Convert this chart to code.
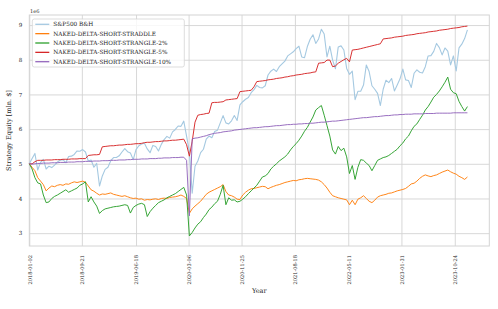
<!DOCTYPE html>
<html>
<head>
<meta charset="utf-8">
<script src="https://cdn.jsdelivr.net/npm/d3@7"></script>
<style>
  body { margin: 0; background: #fff; }
  svg { display: block; font-family: 'DejaVu Serif', serif; }
</style>
</head>
<body>
<div id="chart"></div>
<script>
'use strict'

// equity curves sampled every 14 days from 2018-01-02, in mln $
var startDate = '2018-01-02'
var sampleDays = 14

var spx = [
  5.00, 5.15, 5.30, 4.82, 5.04, 5.13, 4.85, 4.93, 4.89, 4.96, 5.05, 5.10, 5.12,
  5.03, 5.21, 5.22, 5.27, 5.37, 5.36, 5.41, 5.34, 5.08, 5.11, 4.90, 5.01, 4.36,
  4.65, 4.84, 4.90, 5.09, 5.18, 5.18, 5.23, 5.34, 5.44, 5.35, 5.31, 5.12, 5.41,
  5.52, 5.57, 5.59, 5.43, 5.32, 5.53, 5.50, 5.37, 5.56, 5.70, 5.79, 5.74, 5.92, 5.99,
  6.09, 6.08, 6.23, 5.80, 5.35, 4.15, 4.93, 5.08, 5.32, 5.42, 5.71, 5.80, 5.75,
  5.93, 5.97, 6.18, 6.39, 6.18, 6.15, 6.24, 6.39, 6.25, 6.70, 6.79, 6.86, 6.91,
  7.05, 7.14, 7.26, 7.20, 7.19, 7.25, 7.56, 7.67, 7.73, 7.66, 7.80, 7.88, 7.96,
  8.11, 8.17, 8.23, 8.32, 8.39, 8.08, 8.06, 8.38, 8.59, 8.72, 8.47, 8.60, 8.88,
  8.74, 8.08, 8.39, 7.99, 7.74, 8.37, 8.40, 8.28, 7.75, 7.58, 7.67, 6.85, 7.09,
  7.09, 7.27, 7.85, 7.66, 7.25, 7.15, 7.03, 6.68, 7.15, 7.41, 7.34, 7.46, 7.10,
  7.27, 7.45, 7.73, 7.42, 7.40, 7.20, 7.61, 7.71, 7.64, 7.62, 7.80, 8.11, 8.12,
  8.24, 8.47, 8.35, 8.14, 8.34, 8.25, 7.85, 8.11, 7.68, 8.34, 8.45, 8.61, 8.86
]

var straddle = [
  5.00, 4.90, 4.80, 4.60, 4.50, 4.40, 4.22, 4.30, 4.36, 4.34, 4.38, 4.40, 4.38,
  4.42, 4.41, 4.45, 4.48, 4.46, 4.48, 4.50, 4.47, 4.36, 4.25, 4.21, 4.15, 4.10,
  4.13, 4.12, 4.14, 4.16, 4.12, 4.10, 4.08, 4.06, 4.08, 4.05, 4.02, 4.00, 4.01,
  3.98, 3.99, 3.95, 3.97, 3.96, 3.98, 3.99, 3.97, 4.00, 4.01, 4.00, 4.03, 4.04, 4.05,
  4.07, 4.10, 4.06, 4.00, 3.57, 3.70, 3.78, 3.85, 3.92, 4.02, 4.12, 4.18, 4.22,
  4.26, 4.30, 4.34, 4.40, 4.20, 4.10, 4.08, 4.04, 3.98, 3.97, 4.10, 4.18, 4.24,
  4.28, 4.29, 4.31, 4.33, 4.35, 4.34, 4.28, 4.32, 4.35, 4.38, 4.40, 4.43, 4.46,
  4.48, 4.50, 4.52, 4.51, 4.54, 4.55, 4.57, 4.58, 4.57, 4.56, 4.55, 4.53, 4.48,
  4.40, 4.30, 4.18, 4.08, 4.05, 4.02, 4.00, 3.98, 3.96, 3.82, 3.95, 3.82, 3.98,
  4.02, 4.08, 4.00, 3.92, 3.88, 3.95, 4.04, 4.08, 4.10, 4.12, 4.15, 4.16, 4.19,
  4.22, 4.24, 4.26, 4.29, 4.35, 4.42, 4.44, 4.50, 4.58, 4.64, 4.68, 4.65, 4.63,
  4.66, 4.68, 4.72, 4.76, 4.79, 4.82, 4.77, 4.73, 4.70, 4.64, 4.60, 4.55, 4.62
]

var strangle2 = [
  5.00, 4.85, 4.60, 4.45, 4.42, 4.10, 3.88, 3.90, 4.00, 4.06, 4.10, 4.15, 4.20,
  4.25, 4.18, 4.22, 4.26, 4.30, 4.38, 4.42, 4.48, 3.90, 4.05, 3.90, 3.78, 3.57,
  3.65, 3.70, 3.72, 3.74, 3.76, 3.77, 3.78, 3.80, 3.82, 3.80, 3.58, 3.74, 3.80,
  3.84, 3.86, 3.82, 3.48, 3.62, 3.72, 3.80, 3.88, 3.92, 3.96, 4.02, 4.06, 4.10, 4.14,
  4.20, 4.26, 4.32, 4.10, 2.92, 3.02, 3.15, 3.26, 3.33, 3.45, 3.55, 3.68, 3.75,
  3.85, 3.92, 4.12, 4.38, 3.82, 4.02, 3.95, 3.96, 3.90, 3.92, 3.98, 4.05, 4.14,
  4.22, 4.30, 4.38, 4.50, 4.62, 4.65, 4.72, 4.85, 4.93, 5.00, 5.08, 5.14, 5.20,
  5.28, 5.40, 5.50, 5.58, 5.68, 5.80, 5.94, 6.05, 6.20, 6.35, 6.55, 6.62, 6.68,
  6.40, 6.10, 5.80, 5.40, 5.28, 5.50, 5.38, 5.45, 5.20, 4.72, 4.95, 4.55, 4.90,
  5.12, 5.10, 5.02, 4.95, 4.80, 4.95, 5.10, 5.14, 5.18, 5.20, 5.24, 5.30, 5.36,
  5.42, 5.52, 5.60, 5.72, 5.80, 5.95, 6.08, 6.15, 6.28, 6.40, 6.55, 6.65, 6.78,
  6.92, 7.00, 7.10, 7.22, 7.35, 7.50, 7.15, 7.05, 7.02, 6.80, 6.65, 6.52, 6.65
]

var strangle5 = [
  5.00, 5.00, 5.06, 5.10, 5.10, 5.10, 5.11, 5.11, 5.11, 5.12, 5.12, 5.12, 5.13,
  5.13, 5.13, 5.14, 5.14, 5.14, 5.15, 5.15, 5.15, 5.24, 5.25, 5.26, 5.26, 5.27,
  5.49, 5.50, 5.51, 5.52, 5.52, 5.53, 5.54, 5.54, 5.55, 5.56, 5.56, 5.57, 5.58,
  5.58, 5.59, 5.61, 5.62, 5.62, 5.63, 5.64, 5.64, 5.65, 5.66, 5.66, 5.67, 5.68, 5.68,
  5.69, 5.70, 5.71, 5.55, 5.22, 5.65, 6.20, 6.40, 6.42, 6.43, 6.45, 6.46, 6.76,
  6.77, 6.77, 6.78, 6.79, 6.84, 6.85, 6.86, 6.87, 6.88, 7.08, 7.09, 7.10, 7.11,
  7.12, 7.22, 7.37, 7.38, 7.39, 7.40, 7.42, 7.43, 7.44, 7.46, 7.47, 7.48, 7.50,
  7.51, 7.53, 7.54, 7.56, 7.57, 7.58, 7.60, 7.61, 7.62, 7.64, 7.65, 7.90, 7.91,
  7.92, 7.99, 7.99, 7.80, 7.82, 7.90, 7.95, 8.00, 8.04, 7.94, 8.28, 8.29, 8.30,
  8.32, 8.34, 8.36, 8.38, 8.40, 8.42, 8.44, 8.46, 8.60, 8.61, 8.62, 8.63, 8.65,
  8.66, 8.67, 8.68, 8.70, 8.71, 8.72, 8.73, 8.75, 8.76, 8.77, 8.78, 8.80, 8.81,
  8.82, 8.83, 8.85, 8.86, 8.87, 8.88, 8.90, 8.91, 8.92, 8.93, 8.95, 8.96, 8.97
]

var strangle10 = [
  5.00, 4.99, 5.00, 5.01, 5.01, 5.02, 5.02, 5.02, 5.03, 5.03, 5.03, 5.04, 5.04,
  5.04, 5.05, 5.05, 5.05, 5.06, 5.06, 5.06, 5.07, 5.07, 5.07, 5.08, 5.08, 5.08,
  5.09, 5.09, 5.09, 5.10, 5.10, 5.10, 5.11, 5.11, 5.11, 5.12, 5.12, 5.13, 5.13,
  5.13, 5.14, 5.14, 5.14, 5.15, 5.15, 5.15, 5.16, 5.16, 5.17, 5.17, 5.17, 5.18, 5.18,
  5.18, 5.19, 5.19, 5.10, 3.50, 5.72, 5.74, 5.75, 5.77, 5.79, 5.81, 5.84, 5.86,
  5.88, 5.89, 5.90, 5.92, 5.93, 5.94, 5.95, 5.97, 5.98, 5.99, 6.00, 6.01, 6.02,
  6.03, 6.04, 6.04, 6.05, 6.06, 6.07, 6.07, 6.08, 6.09, 6.10, 6.10, 6.11, 6.12,
  6.13, 6.13, 6.14, 6.14, 6.15, 6.15, 6.16, 6.16, 6.17, 6.17, 6.18, 6.19, 6.20,
  6.20, 6.21, 6.22, 6.23, 6.23, 6.24, 6.25, 6.26, 6.27, 6.28, 6.29, 6.30, 6.31,
  6.32, 6.33, 6.33, 6.34, 6.35, 6.36, 6.36, 6.37, 6.38, 6.39, 6.39, 6.40, 6.41,
  6.41, 6.42, 6.42, 6.43, 6.43, 6.43, 6.44, 6.44, 6.44, 6.44, 6.45, 6.45, 6.45,
  6.45, 6.46, 6.46, 6.46, 6.46, 6.46, 6.46, 6.47, 6.47, 6.47, 6.47, 6.47, 6.47
]

var seriesNames = [
  'S&P500 B&H',
  'NAKED-DELTA-SHORT-STRADDLE',
  'NAKED-DELTA-SHORT-STRANGLE-2%',
  'NAKED-DELTA-SHORT-STRANGLE-5%',
  'NAKED-DELTA-SHORT-STRANGLE-10%'
]
var seriesValues = [spx, straddle, strangle2, strangle5, strangle10]
var seriesColors = ['#a5c9e1', '#ff7f0e', '#2ca02c', '#d62728', '#9467bd']

var xTickLabels = [
  '2018-01-02', '2018-09-21', '2019-06-18', '2020-03-06', '2020-11-25',
  '2021-08-18', '2022-05-11', '2023-01-31', '2023-10-24'
]
var yTickValues = [3, 4, 5, 6, 7, 8, 9]

var parse = d3.timeParse('%Y-%m-%d')
var fmt = d3.timeFormat('%Y-%m-%d')
var t0 = parse(startDate)

var W = 498
var H = 309
var margin = { top: 15, right: 8.7, bottom: 63, left: 29.3 }
var width = W - margin.left - margin.right
var height = H - margin.top - margin.bottom

var x = d3
  .scaleTime()
  .domain([t0, parse('2024-04-13')])
  .range([0, width])

var y = d3
  .scaleLinear()
  .domain([2.63, 9.29])
  .range([height, 0])

var svg = d3
  .select('#chart')
  .append('svg')
  .attr('width', W)
  .attr('height', H)

var g = svg
  .append('g')
  .attr('transform', 'translate(' + margin.left + ',' + margin.top + ')')

// grid + tick labels
var xAxis = d3
  .axisBottom(x)
  .tickValues(xTickLabels.map(parse))
  .tickFormat(fmt)
  .tickSize(-height)

var yAxis = d3
  .axisLeft(y)
  .tickValues(yTickValues)
  .tickFormat(d3.format('d'))
  .tickSize(-width)
  .tickPadding(7)

var gx = g
  .append('g')
  .attr('transform', 'translate(0,' + height + ')')
  .call(xAxis)

gx.select('.domain').remove()
gx.selectAll('line').attr('stroke', '#d4d4d4').attr('stroke-width', 0.9)
gx
  .selectAll('text')
  .attr('transform', 'rotate(-90)')
  .attr('x', -9)
  .attr('y', 0)
  .attr('dy', '0.35em')
  .style('text-anchor', 'end')
  .attr('font-family', 'DejaVu Serif, serif')
  .attr('font-size', '5.1px')
  .attr('fill', '#262626')

var gy = g.append('g').call(yAxis)
gy.select('.domain').remove()
gy.selectAll('line').attr('stroke', '#d4d4d4').attr('stroke-width', 0.9)
gy
  .selectAll('text')
  .attr('font-family', 'DejaVu Serif, serif')
  .attr('font-size', '5.6px')
  .attr('fill', '#262626')

g.append('rect')
  .attr('width', width)
  .attr('height', height)
  .attr('fill', 'none')
  .attr('stroke', '#d4d4d4')
  .attr('stroke-width', 1)

// lines
var line = d3
  .line()
  .x(function(d, i) {
    return x(d3.timeDay.offset(t0, i * sampleDays))
  })
  .y(function(d) {
    return y(d)
  })

seriesValues.forEach(function(vals, si) {
  g.append('path')
    .datum(vals)
    .attr('d', line)
    .attr('fill', 'none')
    .attr('stroke', seriesColors[si])
    .attr('stroke-width', si === 0 ? 1.1 : 0.95)
    .attr('stroke-linejoin', 'round')
})

// legend
var leg = g.append('g').attr('transform', 'translate(3, 4)')
leg
  .append('rect')
  .attr('width', 152)
  .attr('height', 48)
  .attr('rx', 2)
  .attr('fill', 'rgba(255,255,255,0.8)')
  .attr('stroke', '#d4d4d4')
  .attr('stroke-width', 0.8)

var item = leg
  .selectAll('.item')
  .data(seriesNames)
  .enter()
  .append('g')
  .attr('class', 'item')
  .attr('transform', function(d, i) {
    return 'translate(0,' + (5.3 + i * 9.35) + ')'
  })

item
  .append('line')
  .attr('x1', 3)
  .attr('x2', 17)
  .attr('stroke', function(d, i) {
    return seriesColors[i]
  })
  .attr('stroke-width', 1.3)

item
  .append('text')
  .attr('x', 21)
  .attr('dy', '0.35em')
  .attr('font-size', '5.75px')
  .attr('fill', '#262626')
  .text(function(d) {
    return d
  })

// axis titles
svg
  .append('text')
  .attr('x', 30)
  .attr('y', 12.5)
  .attr('font-size', '5.1px')
  .attr('fill', '#262626')
  .text('1e6')

svg
  .append('text')
  .attr('transform', 'translate(11,' + (margin.top + height / 2) + ') rotate(-90)')
  .attr('text-anchor', 'middle')
  .attr('font-size', '6.6px')
  .attr('fill', '#262626')
  .text('Strategy Equity [mln. $]')

svg
  .append('text')
  .attr('x', margin.left + width / 2)
  .attr('y', 293)
  .attr('text-anchor', 'middle')
  .attr('font-size', '6.6px')
  .attr('fill', '#262626')
  .text('Year')
</script>
</body>
</html>
